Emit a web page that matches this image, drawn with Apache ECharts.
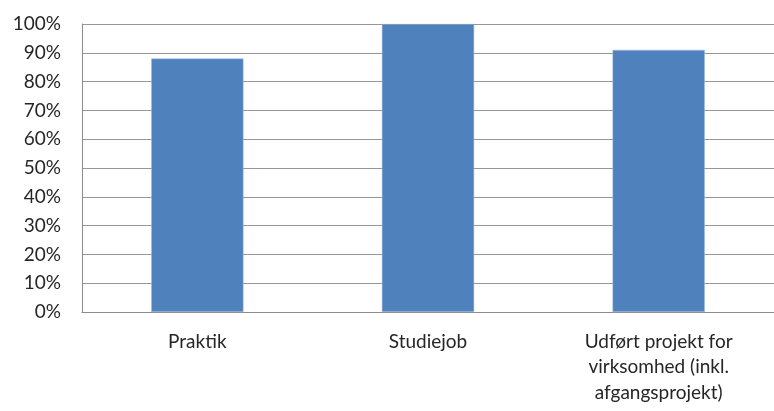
<!DOCTYPE html>
<html>
<head>
<meta charset="utf-8">
<script src="https://cdn.jsdelivr.net/npm/echarts@6/dist/echarts.min.js"></script>
<style>
html,body{margin:0;padding:0;background:#fff;}
#chart{width:774px;height:411px;}
</style>
</head>
<body>
<div id="chart"></div>
<script>
var categories = ["Praktik", "Studiejob", "Udført projekt for\nvirksomhed (inkl.\nafgangsprojekt)"];
var values = [0.88, 1.00, 0.91];
var yTicks = [0, 0.1, 0.2, 0.3, 0.4, 0.5, 0.6, 0.7, 0.8, 0.9, 1.0];

var chart = echarts.init(document.getElementById('chart'), null, {renderer: 'canvas'});
chart.setOption({
  animation: false,
  backgroundColor: '#ffffff',
  grid: {left: 82, top: 24, width: 702, height: 288, containLabel: false},
  xAxis: {
    type: 'category',
    data: categories,
    axisLine: {show: true, lineStyle: {color: '#8c8c8c', width: 1}},
    axisTick: {show: false},
    axisLabel: {
      color: '#262626', fontFamily: 'Lato, "Open Sans", sans-serif', fontSize: 19,
      margin: 17, lineHeight: 25.5, interval: 0, align: 'center'
    },
    splitLine: {show: false}
  },
  yAxis: {
    type: 'value',
    min: yTicks[0],
    max: yTicks[yTicks.length - 1],
    interval: 0.1,
    axisLine: {show: true, lineStyle: {color: '#8c8c8c', width: 1}},
    axisTick: {show: false},
    axisLabel: {
      color: '#262626', fontFamily: 'Lato, "Open Sans", sans-serif', fontSize: 19,
      margin: 21,
      formatter: function (v) { return Math.round(v * 100) + '%'; }
    },
    splitLine: {show: true, lineStyle: {color: '#969696', width: 1}}
  },
  series: [{
    type: 'bar',
    data: values,
    barWidth: '40%',
    itemStyle: {color: '#4f81bd', borderColor: '#a7bfdc', borderWidth: 0.5}
  }]
});
</script>
</body>
</html>
